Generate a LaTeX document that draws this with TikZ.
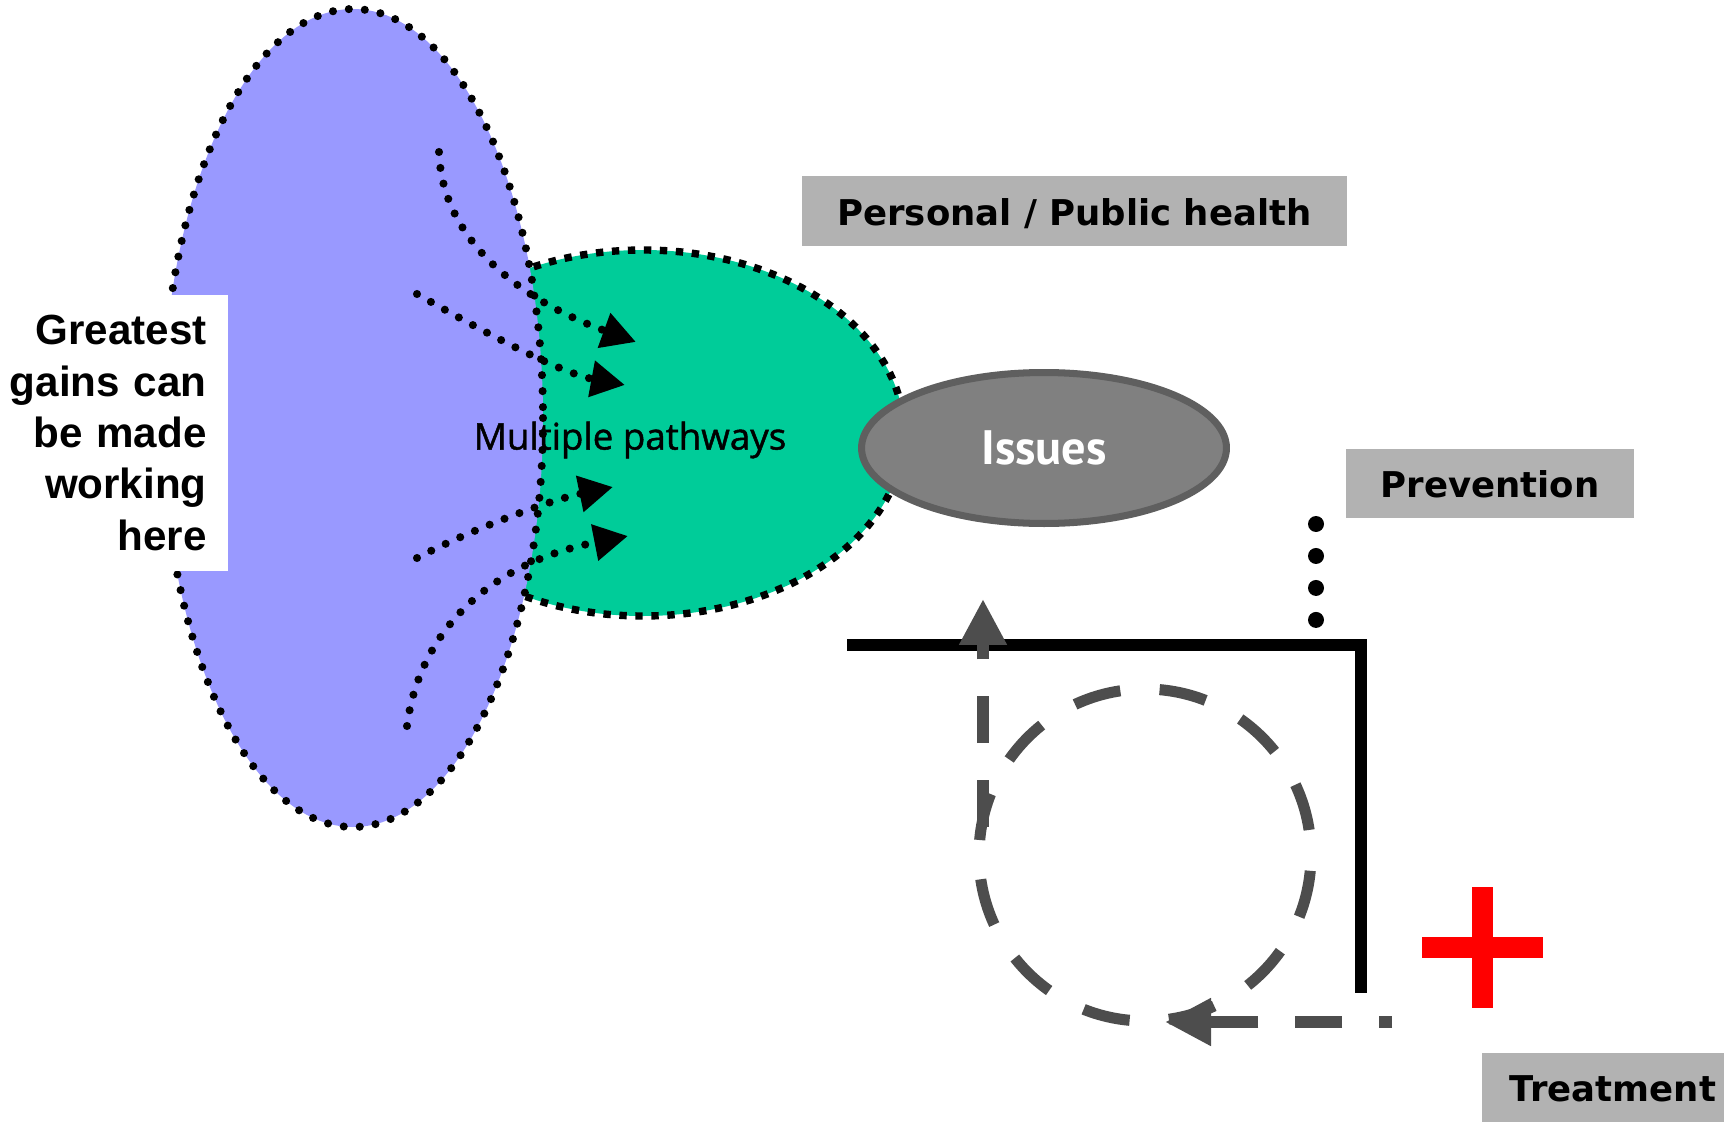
\documentclass[tikz,border=0pt]{standalone}
\usepackage{fontspec}
\setmainfont{DejaVu Sans}
\newfontfamily\gainsfont{Liberation Sans}
\newfontfamily\pathfont[FakeBold=1.2]{Open Sans}
\newfontfamily\issuefont{PT Sans}
\usetikzlibrary{arrows.meta,positioning,shapes.geometric}
\definecolor{Lilac}{HTML}{9999FF}
\definecolor{Mint}{HTML}{00CC99}
\definecolor{Label}{HTML}{B2B2B2}
\definecolor{Issue}{HTML}{808080}
\definecolor{IssueRim}{HTML}{5F5F5F}
\definecolor{Cycle}{HTML}{4D4D4D}
\tikzset{
 labelbox/.style={fill=Label,inner sep=0pt,text height=16pt,text depth=0pt,
  font=\bfseries\fontsize{20.2}{24}\selectfont},
 gainsbox/.style={fill=white,align=right,text width=4.14cm,inner xsep=0.42cm,
  inner ysep=0pt,minimum height=5.52cm,font=\gainsfont\bfseries\fontsize{24}{29.3}\selectfont},
 dotarrow/.style={->,line width=4.6pt,line cap=round,dash pattern=on 0pt off 9.1pt},
 cycleline/.style={Cycle,line width=6.3pt,dash pattern=on 26.7pt off 21pt},
 cyclearrow/.style={cycleline,-{Triangle[length=0.92cm,width=0.9cm]}},
}

\begin{document}
\begin{tikzpicture}[x=0.02cm,y=-0.02cm,>={Triangle[length=0.68cm,width=0.7cm]}]
\useasboundingbox (0,0) rectangle (1724,1122);
\draw[fill=Mint,line width=4.2pt,dash pattern=on 4.2pt off 4.9pt]
 (643,433) ellipse [x radius=261,y radius=183];
\draw[fill=Lilac,line width=4.6pt,line cap=round,dash pattern=on 0pt off 9.1pt]
 (353,418) ellipse [x radius=190,y radius=409];
\node[gainsbox,anchor=east] (gains) at (228,433) {Greatest\\gains can\\be made\\working\\here};
\node[ellipse,draw=IssueRim,fill=Issue,line width=4pt,minimum width=7.3cm,minimum height=3.02cm,
 text=white,font=\issuefont\bfseries\fontsize{27.5}{30}\selectfont] (issues) at (1044,448) {Issues};
\node[font=\pathfont\fontsize{20.9}{24}\selectfont] (paths) at (630,440) {Multiple pathways};
\node[labelbox,minimum width=10.9cm,minimum height=1.4cm] (personal) at (1074.5,211) {Personal / Public health};
\node[labelbox,minimum width=5.76cm,minimum height=1.38cm] (prevention) at (1490,483.5) {Prevention};
\node[labelbox,minimum width=5.24cm,minimum height=1.38cm] (treatment) at (1613,1087.5) {Treatment};

\coordinate (a1) at (439,152); \coordinate (t1) at (636,342);
\coordinate (a2) at (417,294); \coordinate (t2) at (625,385);
\coordinate (a3) at (417,558); \coordinate (t3) at (613,487);
\coordinate (a4) at (407,726); \coordinate (t4) at (628,536);
\draw[dotarrow] (a1) .. controls (442,240) and (520,300) .. (t1);
\draw[dotarrow] (a2) .. controls (480,330) and (560,373) .. (t2);
\draw[dotarrow] (a3) .. controls (470,530) and (550,500) .. (t3);
\draw[dotarrow] (a4) .. controls (418,640) and (480,565) .. (t4);

\coordinate (pv) at (1316,524); \coordinate (pl) at (1316,620);
\draw[line width=9.1pt,line cap=round,dash pattern=on 0pt off 18.2pt] (pv) -- (pl);
\coordinate (hl) at (847,645); \coordinate (corner) at (1361,645); \coordinate (vb) at (1361,993);
\draw[line width=6.3pt] (hl) -- (corner) -- (vb);

\draw[cycleline,dash pattern=on 27pt off 22.4pt,dash phase=40.4pt] (1145,855) circle [radius=166];
\coordinate (ub) at (983,827); \coordinate (ut) at (983,599);
\draw[cyclearrow] (ub) -- (ut);
\coordinate (bb) at (1392,1022); \coordinate (bt) at (1165,1022);
\draw[cyclearrow,dash phase=19.3pt] (bb) -- (bt);
\fill[red] (1472,887) rectangle (1493,1008);
\fill[red] (1422,937) rectangle (1543,958);
\end{tikzpicture}
\end{document}
